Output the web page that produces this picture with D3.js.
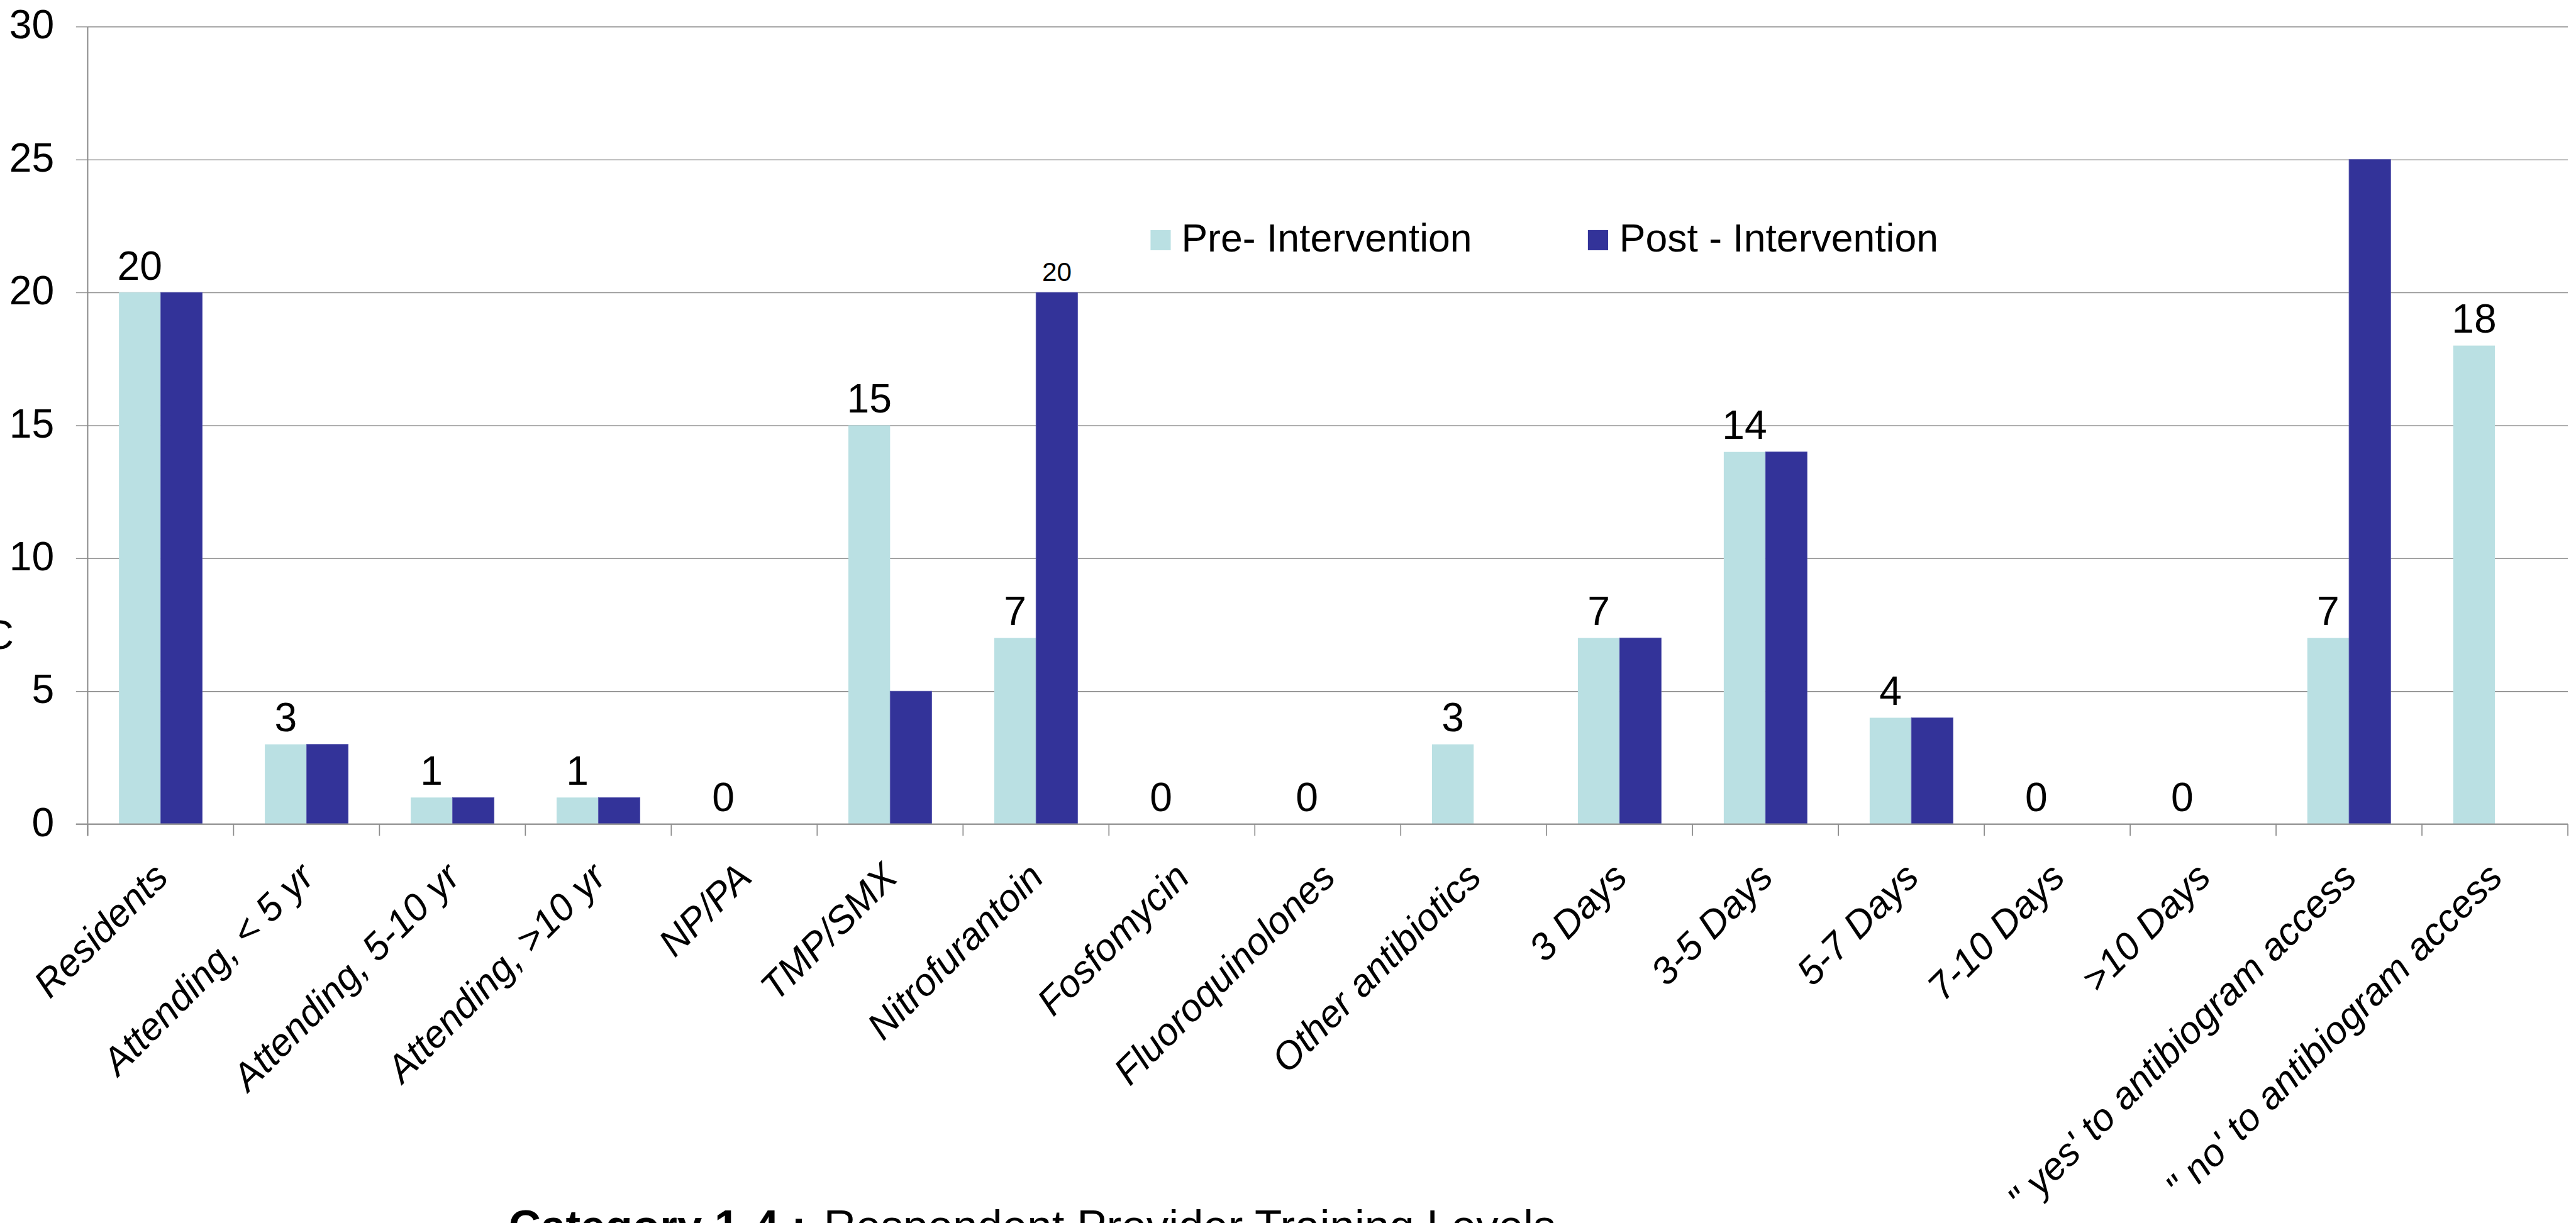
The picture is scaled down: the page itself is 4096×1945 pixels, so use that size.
<!DOCTYPE html>
<html>
<head>
<meta charset="utf-8">
<script src="https://cdn.jsdelivr.net/npm/d3@7"></script>
<style>
  html, body { margin: 0; padding: 0; background: #ffffff; overflow: hidden; }
  svg { display: block; }
</style>
</head>
<body>
<script>
// ---- data -------------------------------------------------------------
const categories = [
  "Residents", "Attending, < 5 yr", "Attending, 5-10 yr", "Attending, >10 yr",
  "NP/PA", "TMP/SMX", "Nitrofurantoin", "Fosfomycin", "Fluoroquinolones",
  "Other antibiotics", "3 Days", "3-5 Days", "5-7 Days", "7-10 Days", ">10 Days",
  "\" yes' to antibiogram access", "\" no' to antibiogram access"
];
const preIntervention  = [20, 3, 1, 1, 0, 15,  7, 0, 0, 3, 7, 14, 4, 0, 0,  7, 18];
const postIntervention = [20, 3, 1, 1, 0,  5, 20, 0, 0, 0, 7, 14, 4, 0, 0, 25,  0];
const seriesNames = ["Pre- Intervention", "Post - Intervention"];
const yTickValues = [0, 5, 10, 15, 20, 25, 30];
const postLabelled = ["Nitrofurantoin"];          // categories whose post bar carries a value label
const captionBold = "Category 1-4 :";
const captionText = "Respondent Provider Training Levels";

// ---- layout (designed on a 4842 x 2299 canvas, drawn at 0.845) --------
const S = 0.845;
const k = v => v * S;
const W = 4096, H = 1945;
const FONT = "'Liberation Sans', Arial, Helvetica, sans-serif";
const PRE_COLOR = "#BAE0E3", POST_COLOR = "#333399";
const GRID = "#8c8c8c";

const plot = { left: 165, right: 4832, top: 50, bottom: 1551 };

const svg = d3.select("body").append("svg")
  .attr("width", W).attr("height", H)
  .attr("viewBox", `0 0 ${W} ${H}`)
  .style("font-family", FONT);

svg.append("rect").attr("width", W).attr("height", H).attr("fill", "#fff");

const x = d3.scaleBand()
  .domain(categories)
  .range([k(plot.left), k(plot.right)])
  .padding(0);

const xs = d3.scaleBand()
  .domain(["pre", "post"])
  .range([0, x.bandwidth()])
  .paddingInner(0)
  .paddingOuter(0.75);

const y = d3.scaleLinear()
  .domain([0, 30])
  .range([k(plot.bottom), k(plot.top)]);

// ---- horizontal gridlines ---------------------------------------------
const grid = svg.append("g")
  .attr("transform", `translate(${k(plot.left)},0)`)
  .call(d3.axisLeft(y)
    .tickValues(yTickValues)
    .tickSizeInner(-(k(plot.right) - k(plot.left)))
    .tickSizeOuter(0)
    .tickFormat(""));
grid.select(".domain").remove();
grid.selectAll(".tick line").attr("stroke", GRID).attr("stroke-width", k(1.6));

// ---- y axis: outward ticks and labels ---------------------------------
const yAxis = svg.append("g")
  .attr("transform", `translate(${k(plot.left)},0)`)
  .call(d3.axisLeft(y)
    .tickValues(yTickValues)
    .tickSizeInner(k(22))
    .tickSizeOuter(0)
    .tickPadding(k(41))
    .tickFormat(d3.format("d")));
yAxis.select(".domain").remove();
yAxis.selectAll(".tick line").attr("stroke", GRID).attr("stroke-width", k(1.6));
yAxis.selectAll(".tick text")
  .attr("dy", "0.29em")
  .attr("fill", "#000")
  .style("font-family", FONT)
  .style("font-size", `${k(76)}px`);

// ---- bars ---------------------------------------------------------------
const rows = categories.map((c, i) => ({ c, pre: preIntervention[i], post: postIntervention[i] }));

const groups = svg.append("g").selectAll("g")
  .data(rows).join("g")
  .attr("transform", d => `translate(${x(d.c)},0)`);

groups.filter(d => d.pre > 0).append("rect")
  .attr("x", xs("pre"))
  .attr("width", xs.bandwidth())
  .attr("y", d => y(d.pre))
  .attr("height", d => y(0) - y(d.pre))
  .attr("fill", PRE_COLOR);

groups.filter(d => d.post > 0).append("rect")
  .attr("x", xs("post"))
  .attr("width", xs.bandwidth())
  .attr("y", d => y(d.post))
  .attr("height", d => y(0) - y(d.post))
  .attr("fill", POST_COLOR)
  .attr("stroke", "#5b5bb0")
  .attr("stroke-width", k(1));

// value labels
groups.append("text")
  .attr("x", xs("pre") + xs.bandwidth() / 2)
  .attr("y", d => y(d.pre) - k(24))
  .attr("text-anchor", "middle")
  .style("font-size", `${k(76)}px`)
  .attr("fill", "#000")
  .text(d => d.pre);

groups.filter(d => postLabelled.includes(d.c)).append("text")
  .attr("x", xs("post") + xs.bandwidth() / 2)
  .attr("y", d => y(d.post) - k(21))
  .attr("text-anchor", "middle")
  .style("font-size", `${k(50)}px`)
  .attr("fill", "#000")
  .text(d => d.post);

// ---- axis lines -------------------------------------------------------
svg.append("line")
  .attr("x1", k(plot.left)).attr("x2", k(plot.left))
  .attr("y1", y(30)).attr("y2", y(0) + k(22))
  .attr("stroke", GRID).attr("stroke-width", k(2.4));

svg.append("line")
  .attr("x1", k(plot.left) - k(22)).attr("x2", k(plot.right))
  .attr("y1", y(0)).attr("y2", y(0))
  .attr("stroke", "#999").attr("stroke-width", k(2.6));

// tick marks between categories
const boundaries = categories.map(c => x(c)).concat([x.range()[1]]);
svg.append("g").selectAll("line")
  .data(boundaries).join("line")
  .attr("x1", d => d).attr("x2", d => d)
  .attr("y1", y(0)).attr("y2", y(0) + k(22))
  .attr("stroke", GRID).attr("stroke-width", k(2));

// category labels, rotated
svg.append("g").selectAll("text")
  .data(categories).join("text")
  .attr("transform", c => `translate(${x(c) + x.bandwidth() / 2 + k(18)},${k(1655)}) rotate(-45)`)
  .attr("text-anchor", "end")
  .style("font-style", "italic")
  .style("font-size", `${k(72)}px`)
  .attr("fill", "#000")
  .text(c => c);

// ---- legend -----------------------------------------------------------
const legendItems = [
  { name: seriesNames[0], color: PRE_COLOR,  sx: 2165, tx: 2223 },
  { name: seriesNames[1], color: POST_COLOR, sx: 2988, tx: 3047 }
];
const legend = svg.append("g");
legend.selectAll("rect").data(legendItems).join("rect")
  .attr("x", d => k(d.sx)).attr("y", k(433))
  .attr("width", k(38)).attr("height", k(38))
  .attr("fill", d => d.color);
legend.selectAll("text").data(legendItems).join("text")
  .attr("x", d => k(d.tx)).attr("y", k(473))
  .style("font-size", `${k(74)}px`)
  .attr("fill", "#000")
  .text(d => d.name);

// ---- left-edge axis title fragment -------------------------------------
svg.append("text")
  .attr("x", k(-29)).attr("y", k(1221))
  .style("font-size", `${k(76)}px`)
  .attr("fill", "#000")
  .text("C");

// ---- caption under the chart -------------------------------------------
const caption = svg.append("text")
  .attr("y", k(2336))
  .style("font-size", `${k(84)}px`)
  .attr("fill", "#000");
caption.append("tspan").attr("x", k(957)).style("font-weight", "bold").text(captionBold);
caption.append("tspan").attr("x", k(1550)).text(captionText);
</script>
</body>
</html>
